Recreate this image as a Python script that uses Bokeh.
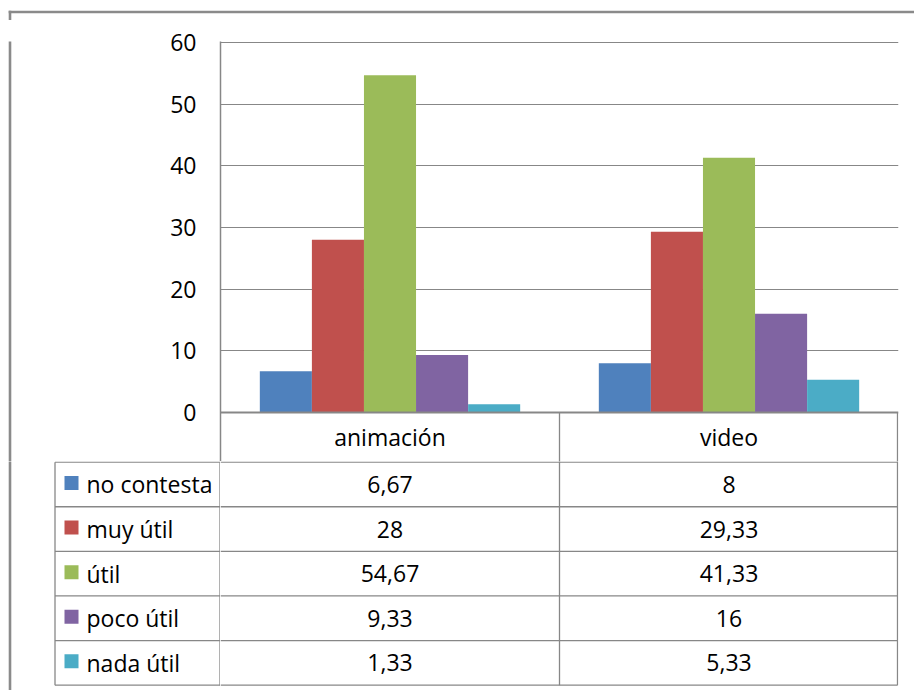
from bokeh.plotting import figure
from bokeh.layouts import column, row
from bokeh.models import FactorRange, Range1d, FixedTicker, ColumnDataSource, Span
from bokeh.transform import dodge
from bokeh.core.properties import value
from bokeh.embed import file_html
from bokeh.resources import INLINE

# ---------------- data ----------------
categories = ["animación", "video"]
series = ["no contesta", "muy útil", "útil", "poco útil", "nada útil"]
no_contesta = [6.67, 8]
muy_util = [28, 29.33]
util = [54.67, 41.33]
poco_util = [9.33, 16]
nada_util = [1.33, 5.33]
y_ticks = [0, 10, 20, 30, 40, 50, 60]
colors = ["#4F81BD", "#C0504D", "#9BBB59", "#8064A2", "#4BACC6"]

series_values = [no_contesta, muy_util, util, poco_util, nada_util]
keys = ["s0", "s1", "s2", "s3", "s4"]

# ---------------- layout (page px) ----------------
W_PAGE, H_PAGE = 914, 690
STRIP_H = 20          # top strip holding the outer border line
LEFT_W = 160          # left strip beside the bar chart
FR_L, FR_R = 220, 898  # plot frame x
FR_T = 41             # plot frame top
Y60 = 42              # pixel of the top tick
ZERO_Y = 412          # pixel of value 0
TOP_B = 461           # bottom of the header row
ROW = 44.6            # table row pitch
T0 = 461.65           # first table-body line
TBL_R = 897           # right table line
LEG_L = 54.5          # left line of legend column
BORDER_X, BORDER_Y = 9.5, 11.5
BORDER_W = 2.6

GRAY = "#878787"
BORDER_C = "#8a8a8a"
FONT = "Open Sans"
FS = "23px"
TXT = "#000000"
LW = 1.3


def clean(f):
    f.outline_line_color = None
    f.background_fill_color = "white"
    f.border_fill_color = "white"
    for g in f.grid:
        g.visible = False
    return f


def blank(w, h, x0, y0):
    f = figure(width=w, height=h, x_range=Range1d(x0, x0 + w), y_range=Range1d(y0 + h, y0),
               output_backend="svg", toolbar_location=None,
               x_axis_location=None, y_axis_location=None, min_border=0)
    return clean(f)


xr = FactorRange(*categories)


def sx(px):
    return (px - FR_L) / (FR_R - FR_L) * len(categories)


XR = sx(TBL_R)

# ---------- top strip: outer border ----------
strip = blank(W_PAGE, STRIP_H, 0, 0)
strip.segment(x0=[BORDER_X - BORDER_W / 2, BORDER_X], y0=[BORDER_Y, BORDER_Y - BORDER_W / 2],
              x1=[W_PAGE + 5, BORDER_X], y1=[BORDER_Y, STRIP_H + 5],
              line_color=BORDER_C, line_width=BORDER_W)

# ---------- left strip ----------
tl = blank(LEFT_W, TOP_B - STRIP_H, 0, STRIP_H)
tl.segment(x0=[BORDER_X], y0=[STRIP_H - 5], x1=[BORDER_X], y1=[TOP_B + 5],
           line_color=BORDER_C, line_width=BORDER_W)

# ---------- bar chart + header row ----------
ppu = (ZERO_Y - Y60) / y_ticks[-1]
p = figure(width=W_PAGE - LEFT_W, height=TOP_B - STRIP_H, x_range=xr,
           y_range=Range1d(-(TOP_B - ZERO_Y) / ppu, y_ticks[-1] + (Y60 - FR_T) / ppu),
           output_backend="svg", toolbar_location=None, x_axis_location=None,
           min_border_left=FR_L - LEFT_W, min_border_right=W_PAGE - FR_R,
           min_border_top=FR_T - STRIP_H, min_border_bottom=0)
p.outline_line_color = None
p.background_fill_color = "white"
p.border_fill_color = "white"
p.extra_y_ranges = {"rows": Range1d(start=(TOP_B - ZERO_Y) / ROW, end=-(ZERO_Y - FR_T) / ROW)}

ax = p.yaxis[0]
ax.ticker = FixedTicker(ticks=y_ticks)
ax.major_tick_line_color = None
ax.minor_tick_line_color = None
ax.major_tick_in = 0
ax.major_tick_out = 0
ax.axis_line_color = GRAY
ax.axis_line_width = 1.5
ax.major_label_standoff = 24
ax.major_label_text_font = FONT
ax.major_label_text_font_size = FS
ax.major_label_text_color = TXT

p.xgrid.visible = False
p.ygrid.ticker = FixedTicker(ticks=y_ticks[1:])
p.ygrid.grid_line_color = GRAY
p.ygrid.grid_line_width = 1.2

data = {"cat": categories}
for k, v in zip(keys, series_values):
    data[k] = v
src = ColumnDataSource(data)
bw = 0.1536
for i, k in enumerate(keys):
    p.vbar(x=dodge("cat", (i - 2) * bw, range=xr), top=k, width=bw,
           source=src, fill_color=colors[i], line_color=None)

p.add_layout(Span(location=0, dimension="width", line_color=GRAY, line_width=2))
hdr = (TOP_B - ZERO_Y) / ROW
p.segment(x0=[1.0, XR], x1=[1.0, XR], y0=[0, 0], y1=[hdr + 0.2, hdr + 0.2],
          y_range_name="rows", line_color=GRAY, line_width=LW)
p.text(x=categories, y=[hdr / 2] * len(categories), text=categories, y_range_name="rows",
       text_font=value(FONT), text_font_size=FS, text_color=TXT,
       text_align="center", text_baseline="middle")

# ---------- legend column ----------
leg = blank(FR_L, H_PAGE - TOP_B, 0, TOP_B)
n = len(series)
leg.segment(x0=[BORDER_X], y0=[TOP_B - 5], x1=[BORDER_X], y1=[H_PAGE + 5],
            line_color=BORDER_C, line_width=BORDER_W)
hy = [T0 + r * ROW for r in range(n + 1)]
leg.segment(x0=[LEG_L] * (n + 1), x1=[FR_L + 2] * (n + 1), y0=hy, y1=hy,
            line_color=GRAY, line_width=LW)
leg.segment(x0=[LEG_L, FR_L - 0.5], x1=[LEG_L, FR_L - 0.5], y0=[T0, T0], y1=[hy[-1], hy[-1]],
            line_color=GRAY, line_width=LW)
cy = [T0 + (r + 0.5) * ROW for r in range(n)]
leg.rect(x=[LEG_L + 16.5] * n, y=[c - 1.5 for c in cy], width=14, height=14,
         fill_color=colors, line_color=None)
leg.text(x=[LEG_L + 31.5] * n, y=cy, text=series,
         text_font=value(FONT), text_font_size=FS, text_color=TXT,
         text_align="left", text_baseline="middle")

# ---------- table body ----------
t = figure(width=W_PAGE - FR_L, height=H_PAGE - TOP_B, x_range=xr,
           y_range=Range1d(start=(H_PAGE - T0) / ROW, end=-(T0 - TOP_B) / ROW),
           output_backend="svg", toolbar_location=None,
           x_axis_location=None, y_axis_location=None,
           min_border_left=0, min_border_right=W_PAGE - FR_R, min_border_top=0, min_border_bottom=0)
clean(t)
t.segment(x0=[0.0] * (n + 1), x1=[XR] * (n + 1), y0=list(range(n + 1)), y1=list(range(n + 1)),
          line_color=GRAY, line_width=LW)
t.segment(x0=[1.0, XR], x1=[1.0, XR], y0=[-1, -1], y1=[n, n], line_color=GRAY, line_width=LW)


def fmt(v):
    return f"{v:g}".replace(".", ",")


xs, ys, ts = [], [], []
for r, vals in enumerate(series_values):
    for c, cat in enumerate(categories):
        xs.append(cat)
        ys.append(r + 0.5)
        ts.append(fmt(vals[c]))
t.text(x=xs, y=ys, text=ts, text_font=value(FONT), text_font_size=FS, text_color=TXT,
       text_align="center", text_baseline="middle")

layout = column(strip, row(tl, p), row(leg, t))
open("out.html", "w").write(file_html(layout, INLINE))
